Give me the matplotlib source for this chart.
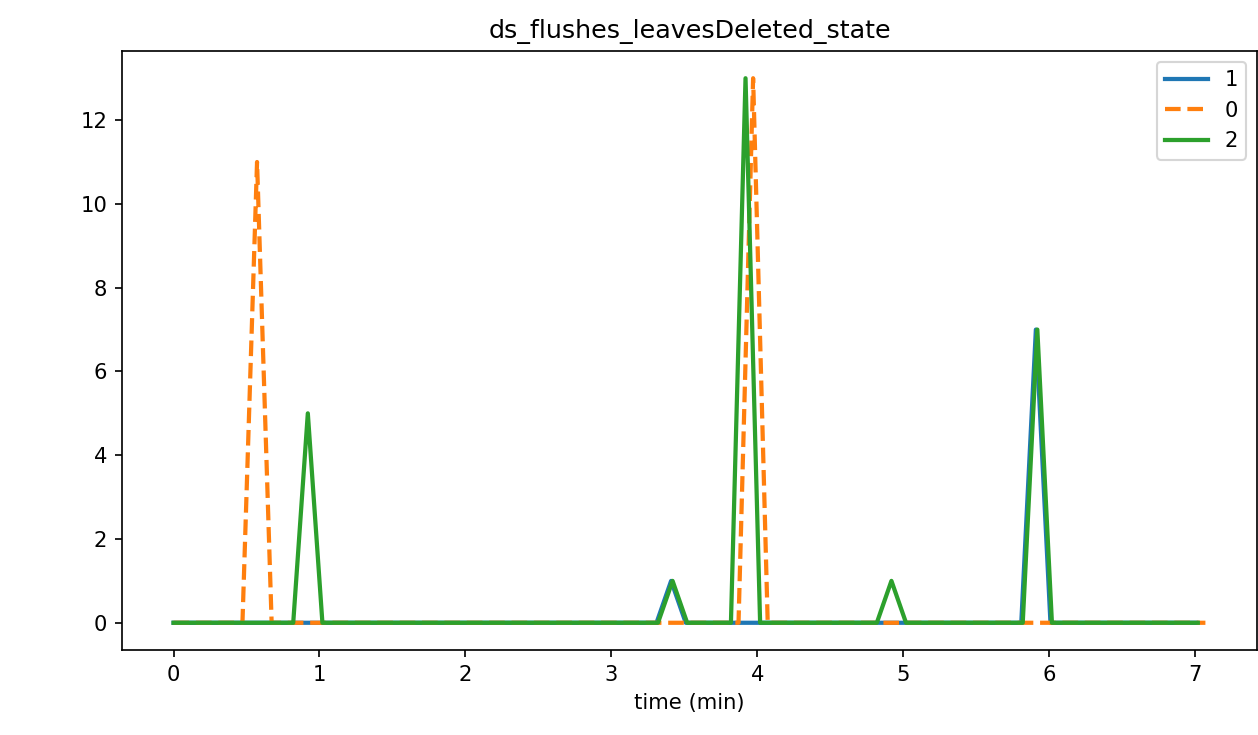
import numpy as np
import matplotlib
matplotlib.use("Agg")
import matplotlib.pyplot as plt

# sampling: one point every 0.1 min, each series with its own small start offset
n_samples = 71
step = 0.1
offsets = {"1": 0.01, "0": 0.072, "2": 0.02}

# non-zero samples per series (sample index -> value)
peaks_1 = {34: 1, 59: 7}
peaks_0 = {5: 11, 39: 13}
peaks_2 = {9: 5, 34: 1, 39: 13, 49: 1, 59: 7}

series = [("1", peaks_1, "-"), ("0", peaks_0, "--"), ("2", peaks_2, "-")]
colors = {"1": "#1f77b4", "0": "#ff7f0e", "2": "#2ca02c"}

dpi = 152
fig = plt.figure(figsize=(1259 / dpi, 735 / dpi), dpi=dpi)
ax = fig.add_axes([122 / 1259, 1 - 650 / 735, (1257 - 122) / 1259, (650 - 51) / 735])

for name, peaks, ls in series:
    t = offsets[name] + step * np.arange(n_samples)
    t[0] = 0.0
    y = np.zeros(n_samples)
    for k, v in peaks.items():
        y[k] = v
    ax.plot(t, y, ls, color=colors[name], lw=2, label=name)

ax.set_title("ds_flushes_leavesDeleted_state")
ax.set_xlabel("time (min)")
ax.legend(loc="upper right")

# clipped super-title above the figure edge
for xp in (693, 740):
    fig.text(xp / 1259, 1.0065, "p", ha="center", va="baseline", fontsize=12)

fig.savefig("out.png", dpi=dpi)
